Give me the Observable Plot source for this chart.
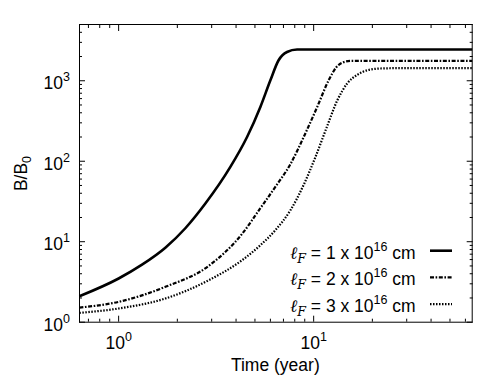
<!DOCTYPE html>
<html><head><meta charset="utf-8">
<script src="https://cdn.jsdelivr.net/npm/d3@7"></script>
<script src="https://cdn.jsdelivr.net/npm/@observablehq/plot@0.6"></script>
<style>
html,body{margin:0;padding:0;background:#fff;}
#chart svg{display:block;}
</style>
</head><body><div id="chart"></div>
<script>
// ---- data ----
const seriesLabels = ["1", "2", "3"]; // ℓF = n x 10^16 cm
const timeA = [0.629, 1.0, 1.318, 1.736, 2.198, 2.784, 3.74, 4.555, 5.33, 6.0, 6.61, 7.30, 8.22, 10, 65];
const bA    = [2.10, 3.49, 5.18, 8.42, 14.7, 29.8, 85, 200, 473, 1014, 1798, 2279, 2441, 2450, 2450];
const timeB = [0.629, 1.0, 1.736, 2.894, 4.294, 5.33, 6.36, 7.60, 8.89, 10.41, 11.94, 13.07, 14.20, 15.43, 18.41, 65];
const bB    = [1.52, 1.79, 2.75, 5.0, 12.5, 26.1, 48, 92, 200, 468.7, 1014, 1472, 1698, 1762, 1767, 1767];
const timeC = [0.629, 1.0, 1.736, 2.894, 4.294, 5.33, 6.36, 7.60, 8.89, 10.20, 11.62, 13.23, 14.89, 16.75, 18.86, 21.98, 27.84, 65];
const bC    = [1.305, 1.48, 1.97, 3.32, 5.89, 9.05, 13.9, 24.6, 51, 112, 257, 573, 931, 1187, 1350, 1420, 1435, 1435];

const xMajor = [1, 10];
const xMajorLabels = ["10^0", "10^1"];
const xMinor = [0.7, 0.8, 0.9, 2, 3, 4, 5, 6, 7, 8, 9, 20, 30, 40, 50, 60];
const yMajor = [1, 10, 100, 1000];
const yMajorLabels = ["10^0", "10^1", "10^2", "10^3"];
const yMinor = [2,3,4,5,6,7,8,9,20,30,40,50,60,70,80,90,200,300,400,500,600,700,800,900,2000,3000,4000,5000];

const toRows = (ts, bs) => ts.map((t, i) => ({t, b: bs[i]}));
const rowsA = toRows(timeA, bA), rowsB = toRows(timeB, bB), rowsC = toRows(timeC, bC);

const font = "'Liberation Sans', Arial, Helvetica, sans-serif";
const FS = 17.5, SUP = 12.5;
const W = 491, H = 382;
const mL = 79, mT = 24, mR = 19.3, mB = 60.3;

const curveStyles = [
  {w: 2.6, dash: "none"},
  {w: 2.2, dash: "4,1.6,1.6,1.6"},
  {w: 2.2, dash: "1.5,1.5"}
];

const tickMarks = [];
for (const a of ["bottom", "top"]) {
  tickMarks.push(Plot.axisX({anchor: a, ticks: xMajor, tickSize: -6, tickFormat: () => "", label: null, strokeWidth: 1}));
  tickMarks.push(Plot.axisX({anchor: a, ticks: xMinor, tickSize: -3, tickFormat: () => "", label: null, strokeWidth: 1}));
}
for (const a of ["left", "right"]) {
  tickMarks.push(Plot.axisY({anchor: a, ticks: yMajor, tickSize: -6, tickFormat: () => "", label: null, strokeWidth: 1}));
  tickMarks.push(Plot.axisY({anchor: a, ticks: yMinor, tickSize: -3, tickFormat: () => "", label: null, strokeWidth: 1}));
}

const chart = Plot.plot({
  width: W, height: H,
  marginLeft: mL, marginTop: mT, marginRight: mR, marginBottom: mB,
  style: {fontFamily: font, fontSize: FS + "px", color: "black", background: "white", overflow: "visible"},
  x: {type: "log", domain: [0.63, 65]},
  y: {type: "log", domain: [1, 5000]},
  marks: [
    Plot.line(rowsA, {x: "t", y: "b", stroke: "black", strokeWidth: curveStyles[0].w, curve: "monotone-x"}),
    Plot.line(rowsB, {x: "t", y: "b", stroke: "black", strokeWidth: curveStyles[1].w, strokeDasharray: curveStyles[1].dash, curve: "monotone-x"}),
    Plot.line(rowsC, {x: "t", y: "b", stroke: "black", strokeWidth: curveStyles[2].w, strokeDasharray: curveStyles[2].dash, curve: "monotone-x"}),
    ...tickMarks,
    Plot.axisX({anchor: "bottom", ticks: xMajor, tickSize: 0, tickPadding: 14, label: null,
      tickFormat: d => xMajorLabels[xMajor.indexOf(d)]}),
    Plot.axisY({anchor: "left", ticks: yMajor, tickSize: 0, tickPadding: 9.5, dy: 3.1, label: null,
      tickFormat: d => yMajorLabels[yMajor.indexOf(d)]}),
    Plot.frame({stroke: "black", strokeWidth: 1})
  ]
});

const svg = d3.select(chart);
// enforce dash patterns on the curves (line marks in drawing order)
svg.selectAll('g[aria-label="line"]').each(function(d, i) {
  const s = curveStyles[i];
  if (!s) return;
  d3.select(this).selectAll("path").attr("stroke-dasharray", s.dash).style("stroke-dasharray", s.dash)
    .attr("stroke-linecap", "butt");
});

// superscripts in tick labels
function supify(el) {
  const s = el.textContent;
  const m = s.match(/^([^\^]+)\^(.+)$/);
  if (!m) return;
  el.textContent = "";
  const sel = d3.select(el);
  sel.append("tspan").text(m[1]);
  sel.append("tspan").attr("dy", -8).attr("font-size", SUP).text(m[2]);
}
svg.selectAll("text").each(function() { supify(this); });

// axis titles
svg.append("text").attr("x", (mL + W - mR) / 2).attr("y", 371).attr("text-anchor", "middle")
  .attr("font-family", font).attr("font-size", FS).attr("fill", "black").text("Time (year)");
const yt = svg.append("text").attr("transform", "translate(27,173.5) rotate(-90)").attr("text-anchor", "middle")
  .attr("font-family", font).attr("font-size", FS).attr("fill", "black");
yt.append("tspan").text("B/B");
yt.append("tspan").attr("dy", 4).attr("font-size", SUP).text("0");

// legend
const lg = svg.append("g");
seriesLabels.forEach((n, i) => {
  const ly = 250.7 + i * 26.7;
  const t = lg.append("text").attr("x", 415.7).attr("y", ly + 7.8).attr("text-anchor", "end")
    .attr("font-family", font).attr("font-size", FS).attr("fill", "black");
  t.append("tspan").attr("font-family", "'DejaVu Serif', serif").attr("font-style", "italic").text("ℓ");
  t.append("tspan").attr("font-family", "'DejaVu Serif', serif").attr("font-style", "italic").attr("font-size", SUP).attr("dy", 4).text("F");
  t.append("tspan").attr("dy", -4).text(" = " + n + " x 10");
  t.append("tspan").attr("dy", -8).attr("font-size", SUP).text("16");
  t.append("tspan").attr("dy", 8).text(" cm");
  const s = curveStyles[i];
  lg.append("line").attr("x1", 430).attr("x2", 452).attr("y1", ly).attr("y2", ly)
    .attr("stroke", "black").attr("stroke-width", s.w).attr("stroke-dasharray", s.dash);
});

document.getElementById("chart").appendChild(chart);
</script>
</body></html>
